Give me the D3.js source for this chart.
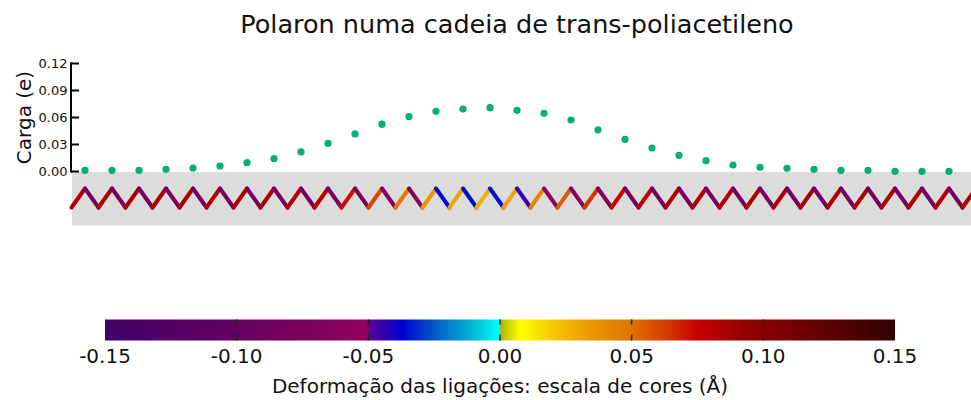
<!DOCTYPE html>
<html>
<head>
<meta charset="utf-8">
<script src="https://cdn.jsdelivr.net/npm/d3@7"></script>
<style>
	body { margin: 0; background: #fff; }
	svg { display: block; font-family: "DejaVu Sans", sans-serif; }
</style>
</head>
<body>
<svg id="chart"></svg>
<script>
// carga por célula (um ponto por vértice de cima da cadeia)
var chargeValues = [0.0013, 0.0013, 0.0013, 0.0024, 0.0039, 0.0061, 0.0098, 0.0142, 0.0217, 0.0313, 0.0417,
	0.0526, 0.0610, 0.0669, 0.0694, 0.0709, 0.0680, 0.0647, 0.0572, 0.0464, 0.0358, 0.0261,
	0.0180, 0.0120, 0.0072, 0.0047, 0.0036, 0.0024, 0.0013, 0.0013, 0.0002, 0.0002, 0.0002];

// deformação de cada ligação (Å), ligação b une o sítio b ao b+1
var bondDeform = [
	0.085, -0.080, 0.085, -0.080, 0.085, -0.080, 0.085, -0.080, 0.085, -0.080,
	0.085, -0.080, 0.085, -0.080, 0.085, -0.080, 0.085, -0.080, 0.083, -0.079,
	0.072, -0.074, 0.060, -0.068, 0.048, -0.060, 0.035, -0.036, 0.030, -0.035,
	0.027, -0.035, 0.031, -0.045, 0.042, -0.052, 0.055, -0.062, 0.064, -0.070,
	0.074, -0.075, 0.080, -0.078, 0.085, -0.080, 0.085, -0.080, 0.085, -0.080,
	0.085, -0.080, 0.085, -0.080, 0.085, -0.080, 0.085, -0.080, 0.085, -0.080,
	0.085, -0.080, 0.085, -0.080, 0.085, -0.080, 0.085];

var chargeTicks = [0, 0.03, 0.06, 0.09, 0.12];
var colorTicks = [-0.15, -0.10, -0.05, 0, 0.05, 0.10, 0.15];

// escala de cores
var cmapStops = [-0.15, -0.10, -0.0505, -0.0495, -0.037, -0.025, -0.008, -0.0004, 0.0004, 0.0076, 0.02, 0.035, 0.05, 0.065, 0.075, 0.093, 0.15];
var cmapColors = ["#43006a", "#64005f", "#91005f", "#5a0096", "#0000d2", "#005ac8", "#00c8dc", "#00ffff",
	"#b4b400", "#ffff00", "#f5c800", "#eb9600", "#e17300", "#d23200", "#c80000", "#960000", "#320000"];

var svgWidth = 971, svgHeight = 400;
var svg = d3.select("#chart").attr("width", svgWidth).attr("height", svgHeight);

var xSite = d3.scaleLinear().domain([0, 1]).range([71.5, 85]);
var yCharge = d3.scaleLinear().domain([0, 0.12]).range([171.5, 63.5]);
var yChain = d3.scaleLinear().domain([0, 1]).range([207.5, 188.5]);
var colorScale = d3.scaleLinear().domain(cmapStops).range(cmapColors).clamp(true);
var xBar = d3.scaleLinear().domain([-0.15, 0.15]).range([105, 895]);

// título
svg.append("text")
	.attr("x", 517)
	.attr("y", 33)
	.attr("text-anchor", "middle")
	.style("font-size", "25.5px")
	.style("fill", "#111")
	.text("Polaron numa cadeia de trans-poliacetileno");

// faixa cinza da cadeia
svg.append("rect")
	.attr("x", 72)
	.attr("y", 172)
	.attr("width", svgWidth - 72)
	.attr("height", 53.5)
	.style("fill", "#dcdcdc");

// cadeia em zigue-zague
var chain = svg.append("g").attr("class", "chain");
chain.selectAll("line")
	.data(bondDeform)
  .enter().append("line")
	.attr("x1", function(d, i) { return xSite(i); })
	.attr("y1", function(d, i) { return yChain(i % 2); })
	.attr("x2", function(d, i) { return xSite(i + 1); })
	.attr("y2", function(d, i) { return yChain((i + 1) % 2); })
	.style("stroke", function(d) { return colorScale(d); })
	.style("stroke-width", "4px")
	.style("stroke-linecap", "round");

// eixo y
var yAxis = svg.append("g").attr("class", "y-axis");
yAxis.append("line")
	.attr("x1", 71).attr("x2", 71)
	.attr("y1", yCharge(0.12) - 1).attr("y2", yCharge(0) + 1)
	.style("stroke", "#000")
	.style("stroke-width", "2px");
yAxis.selectAll(".tick")
	.data(chargeTicks)
  .enter().append("line")
	.attr("class", "tick")
	.attr("x1", 71).attr("x2", 79)
	.attr("y1", function(d) { return yCharge(d); })
	.attr("y2", function(d) { return yCharge(d); })
	.style("stroke", "#000")
	.style("stroke-width", "2px");
yAxis.selectAll("text")
	.data(chargeTicks)
  .enter().append("text")
	.attr("x", 67.5)
	.attr("y", function(d) { return yCharge(d); })
	.attr("dy", "0.35em")
	.attr("text-anchor", "end")
	.style("font-size", "13px")
	.style("fill", "#111")
	.text(function(d) { return d3.format(".2f")(d); });
svg.append("text")
	.attr("transform", "translate(31,117.5) rotate(-90)")
	.attr("text-anchor", "middle")
	.style("font-size", "20px")
	.style("fill", "#111")
	.text("Carga (e)");

// pontos de carga
svg.append("g").selectAll("circle")
	.data(chargeValues)
  .enter().append("circle")
	.attr("cx", function(d, i) { return xSite(2 * i + 1); })
	.attr("cy", function(d) { return yCharge(d); })
	.attr("r", 3.6)
	.style("fill", "#00b07a");

// barra de cores
var defs = svg.append("defs");
var grad = defs.append("linearGradient")
	.attr("id", "cmapGrad")
	.attr("x1", "0%").attr("x2", "100%")
	.attr("y1", "0%").attr("y2", "0%");
grad.selectAll("stop")
	.data(cmapStops)
  .enter().append("stop")
	.attr("offset", function(d) { return ((xBar(d) - xBar(-0.15)) / (xBar(0.15) - xBar(-0.15)) * 100) + "%"; })
	.attr("stop-color", function(d, i) { return cmapColors[i]; });

var barTop = 319.5, barHeight = 21;
var colorbar = svg.append("g").attr("class", "colorbar");
colorbar.append("rect")
	.attr("x", xBar(-0.15))
	.attr("y", barTop)
	.attr("width", xBar(0.15) - xBar(-0.15))
	.attr("height", barHeight)
	.style("fill", "url(#cmapGrad)");

colorbar.selectAll(".tick-top")
	.data(colorTicks.slice(1, -1))
  .enter().append("line")
	.attr("x1", function(d) { return xBar(d); })
	.attr("x2", function(d) { return xBar(d); })
	.attr("y1", barTop).attr("y2", barTop + 5)
	.style("stroke", "#222")
	.style("stroke-width", "1.5px");
colorbar.selectAll(".tick-bottom")
	.data(colorTicks.slice(1, -1))
  .enter().append("line")
	.attr("x1", function(d) { return xBar(d); })
	.attr("x2", function(d) { return xBar(d); })
	.attr("y1", barTop + barHeight - 6).attr("y2", barTop + barHeight)
	.style("stroke", "#222")
	.style("stroke-width", "1.5px");

colorbar.selectAll("text")
	.data(colorTicks)
  .enter().append("text")
	.attr("x", function(d) { return xBar(d); })
	.attr("y", 363)
	.attr("text-anchor", "middle")
	.style("font-size", "20px")
	.style("fill", "#111")
	.text(function(d) { return d3.format(".2f")(d).replace("\u2212", "-"); });

svg.append("text")
	.attr("x", 500)
	.attr("y", 393)
	.attr("text-anchor", "middle")
	.style("font-size", "20px")
	.style("fill", "#111")
	.text("Deformação das ligações: escala de cores (Å)");
</script>
</body>
</html>
